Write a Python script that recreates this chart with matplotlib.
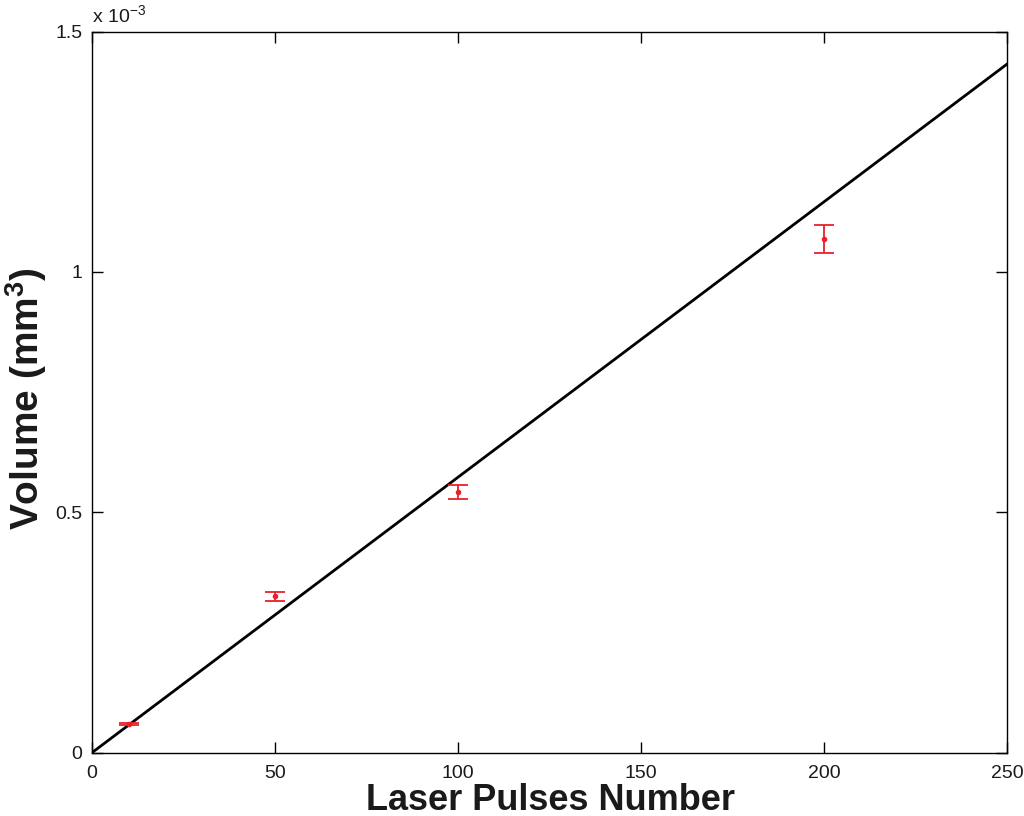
import matplotlib
matplotlib.use("Agg")
import matplotlib.pyplot as plt
import numpy as np

plt.rcParams['font.family'] = ['Liberation Sans', 'DejaVu Sans']
plt.rcParams['mathtext.fontset'] = 'custom'
plt.rcParams['mathtext.rm'] = 'Liberation Sans'
plt.rcParams['mathtext.bf'] = 'Liberation Sans:bold'

pulses = [10, 50, 100, 200]
volume = [0.060e-3, 0.325e-3, 0.542e-3, 1.069e-3]
volume_err = [0.002e-3, 0.009e-3, 0.015e-3, 0.029e-3]
fit_x = [0, 250]
fit_y = [0, 1.4325e-3]

text_color = '#1a1a1a'
W, H = 1024, 816

fig = plt.figure(figsize=(10.24, 8.16), dpi=100)
ax = fig.add_axes([0.0898, 0.0776, 0.8936, 0.8836])

ax.plot(fit_x, fit_y, color='black', lw=2)
ax.errorbar(pulses, volume, yerr=volume_err, fmt='o', color='#e8202a', ms=3,
            capsize=7, elinewidth=1.3, capthick=1.3)

ax.set_xlim(0, 250)
ax.set_ylim(0, 1.5e-3)
ax.set_xticks([0, 50, 100, 150, 200, 250])
ax.set_yticks([0, 0.5e-3, 1e-3, 1.5e-3])
ax.set_yticklabels(['0', '0.5', '1', '1.5'])
ax.tick_params(direction='in', length=8, width=1, labelsize=14,
               top=True, right=True, labelcolor=text_color)
ax.tick_params(axis='x', pad=9)
ax.tick_params(axis='y', pad=7)
for s in ax.spines.values():
    s.set_linewidth(1)

ax.text(0.0, 1.006, r'x 10$^{-3}$', transform=ax.transAxes, fontsize=14,
        ha='left', va='bottom', color=text_color)

fig.text(551 / W, (H - 810) / H, 'Laser Pulses Number', fontsize=26,
         fontweight='bold', ha='center', va='baseline', color=text_color)
fig.text(26 / W, 1 - 399 / H, r'Volume (mm$^\mathbf{3}$)', fontsize=28,
         fontweight='bold', rotation=90, ha='center', va='center',
         color=text_color)

fig.savefig('out.png', dpi=100)
